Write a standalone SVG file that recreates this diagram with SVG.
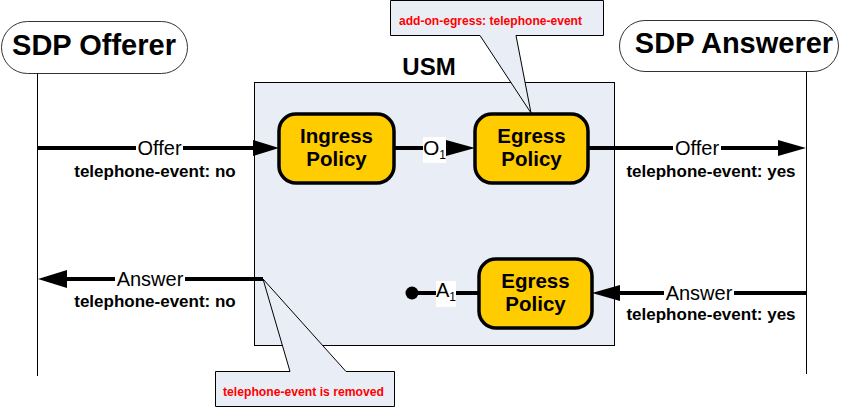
<svg xmlns="http://www.w3.org/2000/svg" width="845" height="407" viewBox="0 0 845 407">
<defs>
<style>
.actor{fill:#fff;stroke:#333;stroke-width:1}
.life{stroke:#000;stroke-width:1;fill:none}
.pol{fill:#FFCC00;stroke:#000;stroke-width:3.5}
.t{font-family:"Liberation Sans",Arial,sans-serif}
.big{font-size:29px;font-weight:bold}
.pt{font-size:20.5px;font-weight:bold}
.lbl{font-size:20px}
.sub{font-size:17px;font-weight:bold}
.red{font-weight:bold;fill:#FF0000}
.msg{stroke:#000;stroke-width:4;fill:none}
.call{fill:#E8EDF6;stroke:#000;stroke-width:1}
.wb{fill:#fff}
</style>
</defs>
<rect width="845" height="407" fill="#fff"/>
<g id="usm">
<rect x="254.5" y="82.5" width="360" height="263" fill="#E8EDF6" stroke="#000" stroke-width="1"/>
<text class="t" x="429" y="75" text-anchor="middle" font-size="24" font-weight="bold">USM</text>
</g>
<g id="offerer">
<rect class="actor" x="1.5" y="21.5" width="186" height="52" rx="26"/>
<text class="t big" x="94" y="55" text-anchor="middle">SDP Offerer</text>
<line class="life" x1="37.5" y1="73.5" x2="37.5" y2="376"/>
</g>
<g id="answerer">
<rect class="actor" x="619.5" y="20.5" width="219" height="51" rx="25.5"/>
<text class="t big" x="734" y="53" text-anchor="middle">SDP Answerer</text>
<line class="life" x1="806.5" y1="71.5" x2="806.5" y2="374"/>
</g>
<g id="connectors">
<line class="msg" x1="37" y1="148" x2="255" y2="148"/>
<polygon points="279,148 253,140 253,156" fill="#000"/>
<line class="msg" x1="394" y1="148" x2="450" y2="148"/>
<polygon points="475,148 446,140 446,156" fill="#000"/>
<line class="msg" x1="588" y1="148" x2="782" y2="148"/>
<polygon points="806,148 778,140 778,156" fill="#000"/>
<line class="msg" x1="806" y1="293" x2="615" y2="293"/>
<polygon points="592,293 620,285 620,301" fill="#000"/>
<line class="msg" x1="412" y1="293" x2="479" y2="293"/>
<circle cx="412" cy="293" r="6.5" fill="#000"/>
<line class="msg" x1="263" y1="279" x2="62" y2="279"/>
<polygon points="38,279 67,270 67,288" fill="#000"/>
</g>
<g id="labels">
<rect class="wb" x="136" y="138" width="47" height="20"/>
<text class="t lbl" x="159.5" y="155" text-anchor="middle">Offer</text>
<text class="t sub" x="155" y="177" text-anchor="middle">telephone-event: no</text>
<rect class="wb" x="423" y="137" width="23" height="26"/>
<text class="t" x="423" y="155" font-size="21">O<tspan font-size="12" dy="4">1</tspan></text>
<rect class="wb" x="673" y="138" width="48" height="20"/>
<text class="t lbl" x="697" y="155" text-anchor="middle">Offer</text>
<text class="t sub" x="711" y="177" text-anchor="middle">telephone-event: yes</text>
<rect class="wb" x="664" y="283" width="70" height="20"/>
<text class="t lbl" x="699" y="300" text-anchor="middle">Answer</text>
<text class="t sub" x="711" y="320" text-anchor="middle">telephone-event: yes</text>
<rect class="wb" x="436" y="281" width="20" height="26"/>
<text class="t" x="436" y="297" font-size="20">A<tspan font-size="12" dy="4">1</tspan></text>
<rect class="wb" x="115" y="269" width="70" height="20"/>
<text class="t lbl" x="150" y="286" text-anchor="middle">Answer</text>
<text class="t sub" x="155" y="307" text-anchor="middle">telephone-event: no</text>
</g>
<g id="ingress">
<rect class="pol" x="279" y="114" width="115" height="69" rx="17"/>
<text class="t pt" x="336.5" y="143" text-anchor="middle">Ingress</text>
<text class="t pt" x="336.5" y="166" text-anchor="middle">Policy</text>
</g>
<g id="egress1">
<rect class="pol" x="475" y="114" width="113" height="69" rx="17"/>
<text class="t pt" x="531.5" y="143" text-anchor="middle">Egress</text>
<text class="t pt" x="531.5" y="166" text-anchor="middle">Policy</text>
</g>
<g id="egress2">
<rect class="pol" x="479" y="259" width="113" height="69" rx="17"/>
<text class="t pt" x="535.5" y="288" text-anchor="middle">Egress</text>
<text class="t pt" x="535.5" y="311" text-anchor="middle">Policy</text>
</g>
<g id="callout-top">
<path class="call" d="M390.5,0.5 H603.5 V35.5 H516 L531,113 L480,35.5 H390.5 Z"/>
<text class="t red" x="399" y="25" font-size="13" textLength="183" lengthAdjust="spacingAndGlyphs">add-on-egress: telephone-event</text>
</g>
<g id="callout-bottom">
<path class="call" d="M215.5,371.5 H290 L263,279 L346,371.5 H394.5 V406.5 H215.5 Z"/>
<text class="t red" x="223" y="396" font-size="12.5" textLength="161" lengthAdjust="spacingAndGlyphs">telephone-event is removed</text>
</g>
</svg>
